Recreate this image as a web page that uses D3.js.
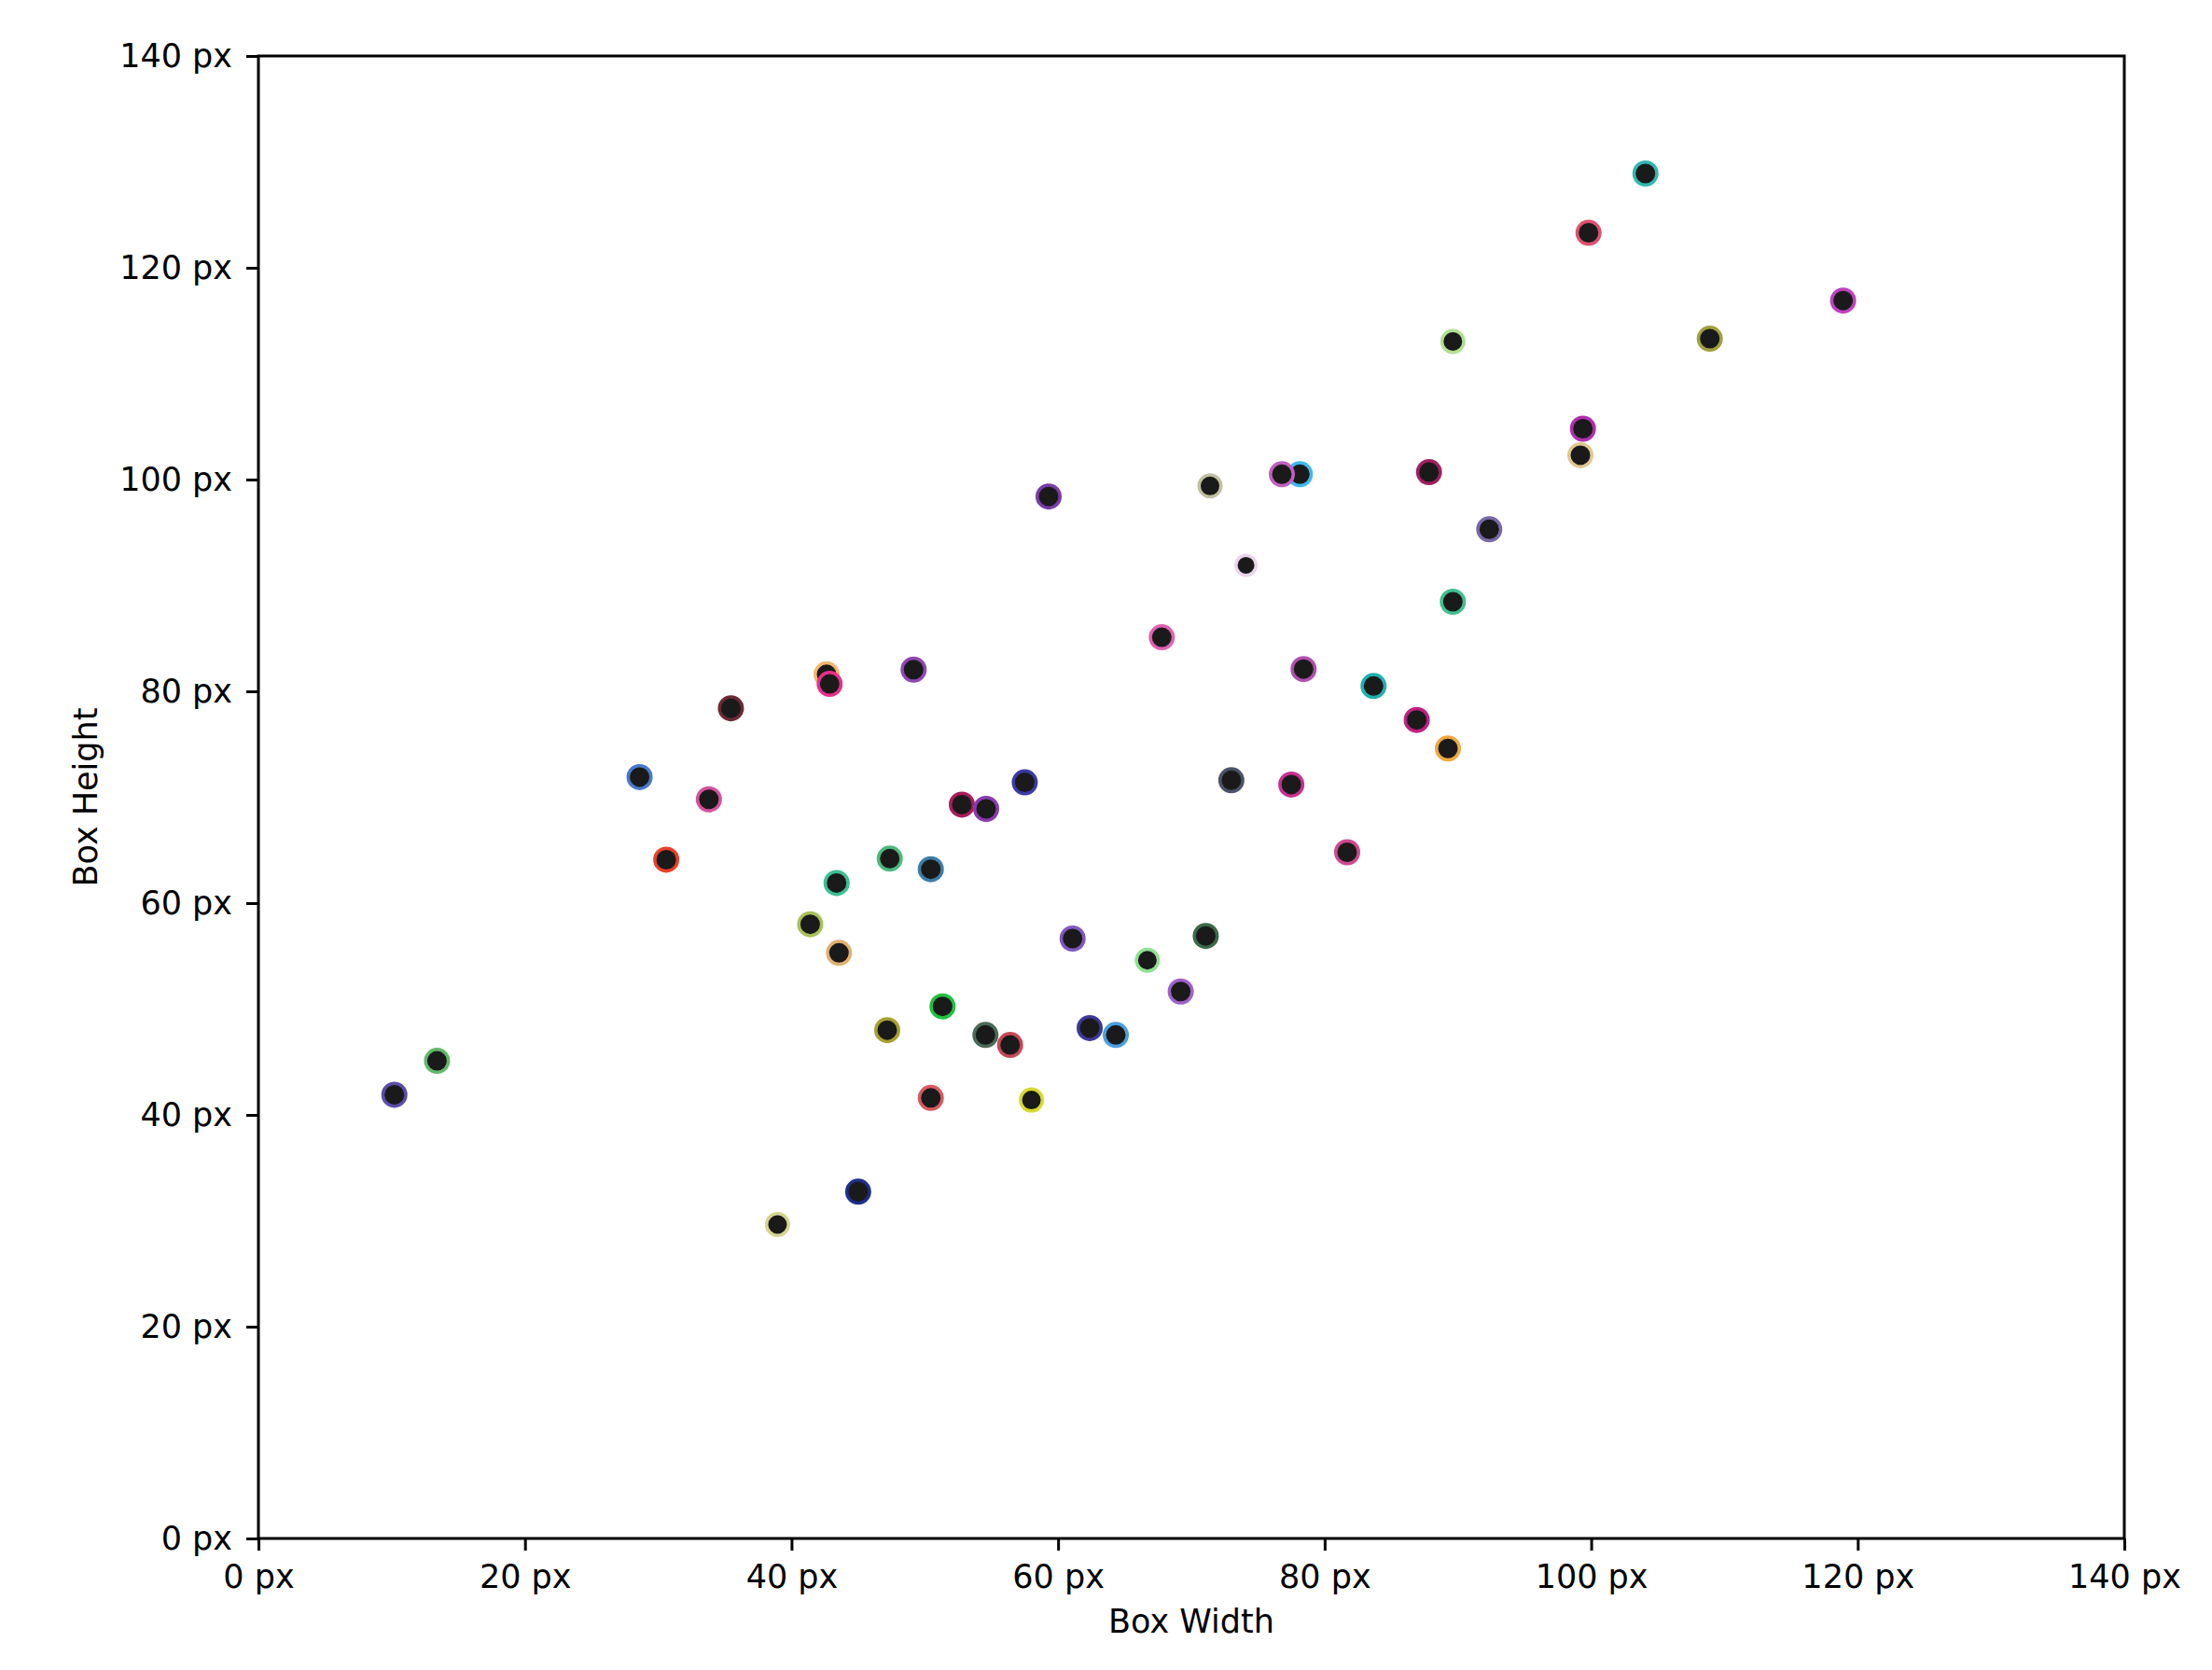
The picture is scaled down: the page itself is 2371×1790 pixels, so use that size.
<!DOCTYPE html>
<html>
<head>
<meta charset="utf-8">
<script src="https://cdn.jsdelivr.net/npm/d3@7"></script>
<style>
  html, body { margin: 0; padding: 0; background: #ffffff; }
  svg { display: block; }
  text { font-family: "DejaVu Sans", sans-serif; fill: #000; }
</style>
</head>
<body>
<div id="chart"></div>
<script>
// ---- data ----
const boxWidths  = [10.2, 13.4, 28.6, 30.6, 33.8, 35.45, 38.95, 41.4, 42.63, 42.86,
                    43.38, 43.56, 45.0, 47.18, 47.37, 49.16, 50.45, 50.45, 51.33, 52.78,
                    54.6, 54.55, 56.4, 57.5, 58.0, 59.29, 61.09, 62.37, 64.33, 66.7,
                    67.78, 69.2, 71.08, 71.4, 73.0, 74.1, 78.14, 76.79, 77.5, 78.42,
                    81.69, 83.67, 86.91, 87.83, 89.25, 89.62, 89.62, 92.35, 99.19, 99.38,
                    99.8, 104.07, 108.9, 118.9];
const boxHeights = [41.9, 45.1, 71.9, 64.1, 69.8, 78.4, 29.65, 58.0, 81.6, 80.7,
                    61.9, 55.3, 32.75, 48.0, 64.2, 82.05, 41.6, 63.2, 50.25, 69.3,
                    68.9, 47.55, 46.6, 71.4, 41.4, 98.4, 56.65, 48.2, 47.55, 54.6,
                    85.1, 51.65, 56.9, 99.4, 71.6, 91.9, 100.5, 100.5, 71.2, 82.1,
                    64.8, 80.5, 77.3, 100.7, 74.6, 113.04, 88.46, 95.3, 102.3, 104.8,
                    123.3, 128.9, 113.3, 116.9];
const edgeColors = ["#5b4da8", "#62b86a", "#4a78c8", "#e8402a", "#d6509c", "#6b2a35", "#d6d490", "#a8c05a", "#f0b870", "#e8308a",
                    "#3cbf94", "#e0b070", "#1f2e8a", "#a8a030", "#4cba7a", "#9048b0", "#d85a60", "#3a7ea8", "#22c040", "#a81c5c",
                    "#8a3ab0", "#4a6a58", "#c84858", "#3a3aa8", "#d8d830", "#7a3aa8", "#8058c0", "#3c3898", "#4aa0e0", "#90e090",
                    "#e060b0", "#a060c8", "#3a6a4a", "#c0c0a0", "#4a5468", "#ecd4ec", "#40b8f0", "#c060c0", "#c83090", "#b050b0",
                    "#d04890", "#20b0b0", "#c02080", "#a02060", "#f0a840", "#b0e090", "#40c090", "#7868a8", "#e0c890", "#b030b0",
                    "#e05070", "#30b8b0", "#a0a040", "#c040c0"];
const markerRadii = [14, 14, 14, 14, 14, 14, 13.5, 14, 14, 14,
                     14, 14, 14, 14, 14, 14, 14, 14, 14, 14,
                     14, 14, 14, 14, 13.5, 14, 14, 14, 14, 13.5,
                     14, 14, 14, 13.5, 14, 12.5, 14, 14, 14, 14,
                     14, 14, 14, 14, 14, 13.5, 14, 14, 14, 14,
                     14, 14, 14, 14];
const tickValues = [0, 20, 40, 60, 80, 100, 120, 140];
const xLabel = "Box Width";
const yLabel = "Box Height";

// ---- layout ----
const W = 2371, H = 1790;
const mLeft = 277, mRight = 2277, mTop = 60, mBottom = 1649;
const fontSize = 35;

const svg = d3.select("#chart").append("svg")
  .attr("width", W).attr("height", H);

const x = d3.scaleLinear().domain([0, 140]).range([mLeft, mRight]);
const y = d3.scaleLinear().domain([0, 140]).range([mBottom, mTop]);

const points = boxWidths.map((w, i) => ({w, h: boxHeights[i], c: edgeColors[i], r: markerRadii[i]}));

// points
const strokeW = 3.5;
svg.append("g").selectAll("circle").data(points).join("circle")
  .attr("cx", d => x(d.w))
  .attr("cy", d => y(d.h))
  .attr("r", d => d.r - strokeW / 2)
  .attr("fill", "#1a1a1a")
  .attr("stroke", d => d.c)
  .attr("stroke-width", strokeW);

// frame
svg.append("rect")
  .attr("x", mLeft).attr("y", mTop)
  .attr("width", mRight - mLeft).attr("height", mBottom - mTop)
  .attr("fill", "none").attr("stroke", "#000").attr("stroke-width", 3);

const fmt = v => v + " px";

const xAxis = svg.append("g").attr("transform", `translate(0,${mBottom})`)
  .call(d3.axisBottom(x).tickValues(tickValues).tickFormat(fmt).tickSize(13).tickPadding(15).tickSizeOuter(0));
const yAxis = svg.append("g").attr("transform", `translate(${mLeft},0)`)
  .call(d3.axisLeft(y).tickValues(tickValues).tickFormat(fmt).tickSize(13).tickPadding(15).tickSizeOuter(0));

[xAxis, yAxis].forEach(g => {
  g.select(".domain").remove();
  g.selectAll(".tick line").attr("stroke", "#000").attr("stroke-width", 3);
  g.selectAll(".tick text")
    .attr("font-family", "DejaVu Sans, sans-serif")
    .attr("font-size", fontSize)
    .attr("fill", "#000");
});

// axis labels
svg.append("text")
  .attr("x", (mLeft + mRight) / 2)
  .attr("y", 1750)
  .attr("text-anchor", "middle")
  .attr("font-size", fontSize)
  .text(xLabel);

svg.append("text")
  .attr("transform", `translate(104,${(mTop + mBottom) / 2}) rotate(-90)`)
  .attr("text-anchor", "middle")
  .attr("font-size", fontSize)
  .text(yLabel);
</script>
</body>
</html>
